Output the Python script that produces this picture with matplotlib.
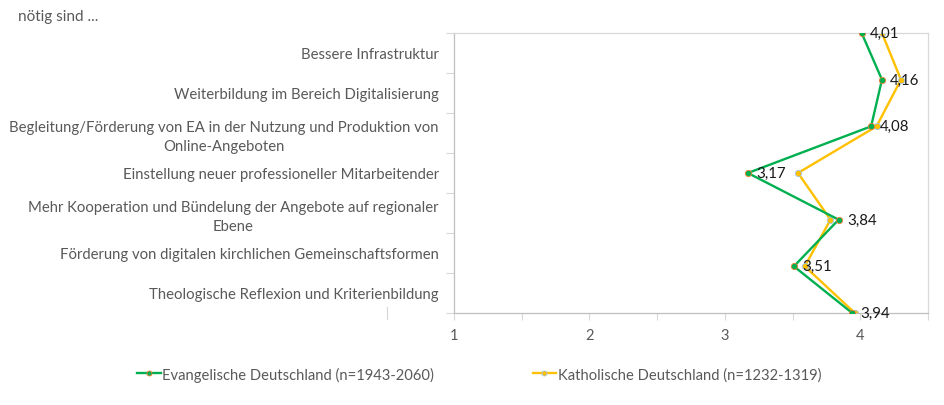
import matplotlib.pyplot as plt
import matplotlib.lines as mlines
import numpy as np

plt.rcParams['font.family'] = ['Lato', 'DejaVu Sans']

# data
categories = [
    "Bessere Infrastruktur",
    "Weiterbildung im Bereich Digitalisierung",
    "Begleitung/Förderung von EA in der Nutzung und Produktion von\nOnline-Angeboten",
    "Einstellung neuer professioneller Mitarbeitender",
    "Mehr Kooperation und Bündelung der Angebote auf regionaler\nEbene",
    "Förderung von digitalen kirchlichen Gemeinschaftsformen",
    "Theologische Reflexion und Kriterienbildung",
]
evangelisch = [4.01, 4.16, 4.08, 3.17, 3.84, 3.51, 3.94]
katholisch = [4.16, 4.30, 4.12, 3.54, 3.78, 3.59, 3.96]
evangelisch_labels = ["4,01", "4,16", "4,08", "3,17", "3,84", "3,51", "3,94"]
series_names = ["Evangelische Deutschland (n=1943-2060)",
                "Katholische Deutschland (n=1232-1319)"]
x_ticks = [1, 2, 3, 4]
header = "nötig sind ..."

green = "#00B050"
yellow = "#FFC000"
grey_txt = "#595959"
grey_line = "#BFBFBF"

fig = plt.figure(figsize=(9.45, 4.06), dpi=100)
ax = fig.add_axes([454 / 945, 1 - 314 / 406, (928 - 454) / 945, (314 - 34) / 406])

n = len(categories)
ypos = np.linspace(0, n - 1, n)  # points span full height (Excel style)

ax.plot(evangelisch, ypos, color=green, lw=1.7, marker="o", ms=4.5,
        mfc=green, mec="#ED7D31", mew=0.6, label=series_names[0], zorder=3)
ax.plot(katholisch, ypos, color=yellow, lw=1.7, marker="o", ms=4.5,
        mfc=yellow, mec="#9DC3E6", mew=0.6, label=series_names[1], zorder=2)

for xv, yv, lab in zip(evangelisch, ypos, evangelisch_labels):
    ax.annotate(lab, (xv, yv), xytext=(6, 0), textcoords="offset points",
                ha="left", va="center", fontsize=10.8, color="#1a1a1a", zorder=4)

ax.set_xlim(1, 4.5)
ax.set_ylim(n - 1, 0)

# category bands: boundaries as ticks, names centred in bands
bounds = np.linspace(0, n - 1, n + 1)
centers = (bounds[:-1] + bounds[1:]) / 2
ax.set_yticks(bounds)
ax.set_yticklabels([])
ax.set_yticks(centers, minor=True)
ax.set_yticklabels(categories, minor=True, multialignment="center", linespacing=1.45)
ax.tick_params(axis="y", which="major", length=6, width=0.8, color="#D9D9D9")
ax.tick_params(axis="y", which="minor", length=0, pad=11, labelsize=10.7,
               labelcolor=grey_txt)

ax.set_xticks(x_ticks)
ax.set_xticklabels([str(v) for v in x_ticks])
ax.set_xticks([1.5, 2.5, 3.5, 4.5], minor=True)
ax.tick_params(axis="x", which="both", length=5, width=0.8, color="#D9D9D9",
               labelsize=10.5, labelcolor=grey_txt, pad=6)

for s in ["left", "bottom"]:
    ax.spines[s].set_color(grey_line)
    ax.spines[s].set_linewidth(0.9)
for s in ["top", "right"]:
    ax.spines[s].set_color("#D9D9D9")
    ax.spines[s].set_linewidth(0.9)

fig.text(18 / 945, 1 - 17 / 406, header, ha="left", va="center",
         fontsize=11, color=grey_txt)

# stray tick left of the plot
fig.add_artist(mlines.Line2D([387 / 945, 387 / 945], [1 - 308 / 406, 1 - 320 / 406],
                             color="#D9D9D9", lw=0.9))

fig.legend(loc="center", bbox_to_anchor=(479 / 945, 1 - 375 / 406), ncol=2,
           frameon=False, fontsize=10.6, labelcolor=grey_txt, handlelength=1.6,
           handletextpad=0.1, columnspacing=6.7, markerscale=0.8)

fig.savefig("out.png", dpi=100)
